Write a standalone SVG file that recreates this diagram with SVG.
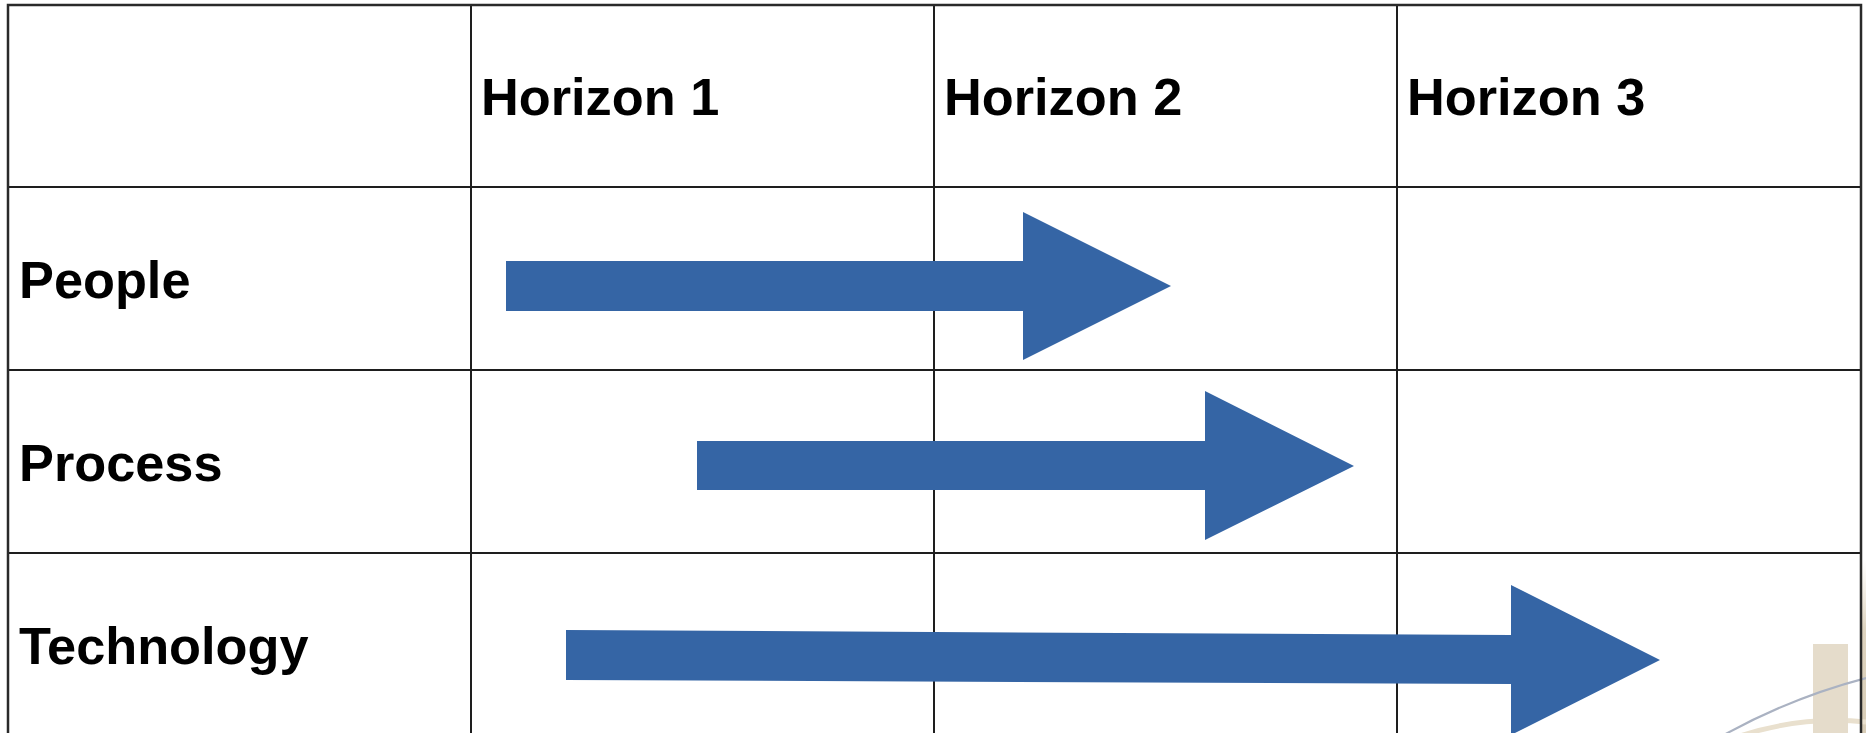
<svg xmlns="http://www.w3.org/2000/svg" width="1866" height="733" viewBox="0 0 1866 733">
  <defs>
    <style>
      .grid { stroke: #1e1e1e; stroke-width: 2; fill: none; }
      .frame { stroke: #2a2a2a; stroke-width: 2.5; fill: none; }
      .label { font-family: "Liberation Sans", Arial, Helvetica, sans-serif; font-weight: bold; font-size: 52.3px; fill: #000; }
      .arrow { fill: #3565a5; }
    </style>
    <linearGradient id="edgeFade" x1="0" y1="0" x2="0" y2="1">
      <stop offset="0" stop-color="#e6ddcb" stop-opacity="0"/>
      <stop offset="0.4" stop-color="#ddd3bf" stop-opacity="1"/>
      <stop offset="1" stop-color="#d8cdb7" stop-opacity="1"/>
    </linearGradient>
  </defs>

  <rect x="0" y="0" width="1866" height="733" fill="#ffffff"/>

  <!-- decorative artwork peeking in at the lower right -->
  <g id="corner-art">
    <rect x="1862" y="560" width="4" height="173" fill="url(#edgeFade)"/>
    <path d="M1740 736 Q1800 716 1866 722" stroke="#e9e0ce" stroke-width="5" fill="none"/>
    <rect x="1813" y="644" width="35" height="90" fill="#e5dccb"/>
    <path d="M1722 736 Q1790 698 1866 678" stroke="#aab2c2" stroke-width="2.2" fill="none"/>
  </g>

  <!-- table grid -->
  <g id="table">
    <line class="grid" x1="471" y1="5" x2="471" y2="740"/>
    <line class="grid" x1="934" y1="5" x2="934" y2="740"/>
    <line class="grid" x1="1397" y1="5" x2="1397" y2="740"/>
    <line class="grid" x1="8" y1="187" x2="1861" y2="187"/>
    <line class="grid" x1="8" y1="370" x2="1861" y2="370"/>
    <line class="grid" x1="8" y1="553" x2="1861" y2="553"/>
    <path class="frame" d="M8 740 V5 H1861 V740"/>
  </g>

  <!-- column headers -->
  <g id="horizon-1"><text class="label" x="481" y="115">Horizon 1</text></g>
  <g id="horizon-2"><text class="label" x="944" y="115">Horizon 2</text></g>
  <g id="horizon-3"><text class="label" x="1407" y="115">Horizon 3</text></g>

  <!-- row headers -->
  <g id="people"><text class="label" x="19" y="298">People</text></g>
  <g id="process"><text class="label" x="19" y="481">Process</text></g>
  <g id="technology"><text class="label" x="19" y="664">Technology</text></g>

  <!-- progression arrows -->
  <g id="arrows">
    <polygon id="arrow-people" class="arrow" points="506,261 1023,261 1023,212 1171,286 1023,360 1023,311 506,311"/>
    <polygon id="arrow-process" class="arrow" points="697,441 1205,441 1205,391 1354,466 1205,540 1205,490 697,490"/>
    <polygon id="arrow-technology" class="arrow" points="566,630 1511,635 1511,585 1660,660 1511,735 1511,684 566,680"/>
  </g>
</svg>
